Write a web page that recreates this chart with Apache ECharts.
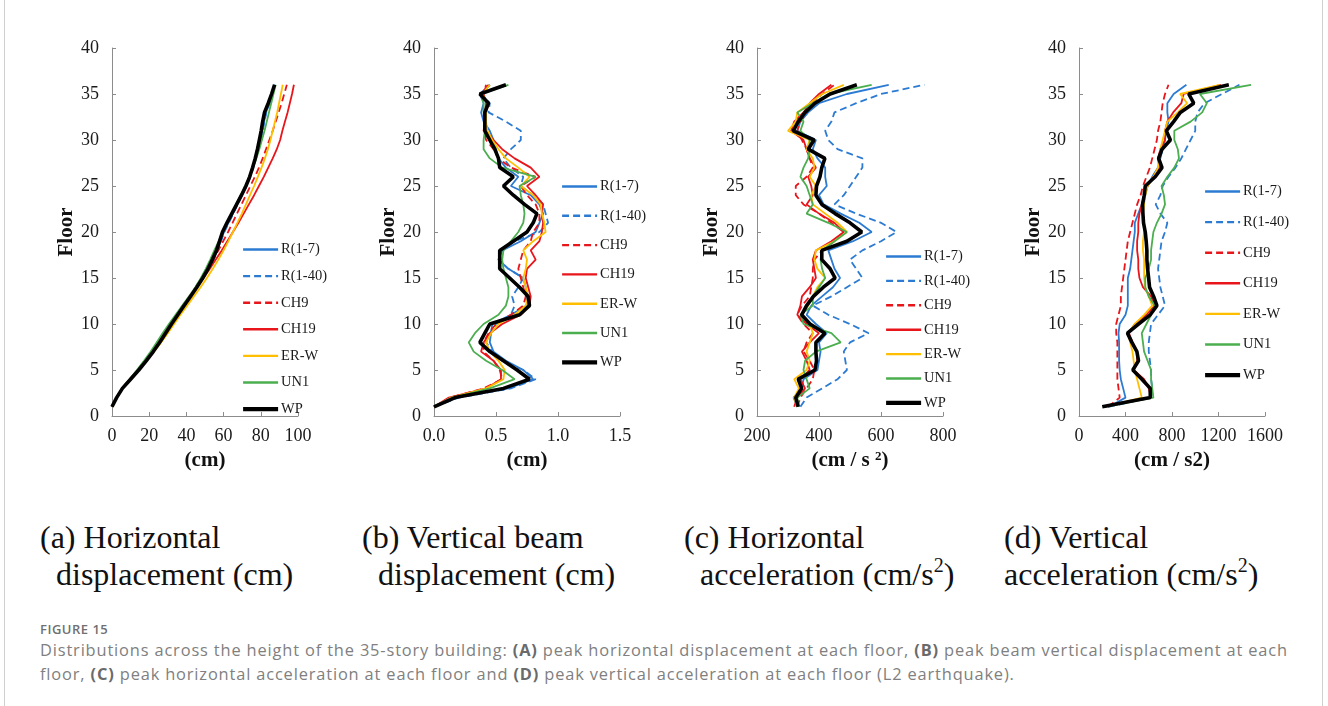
<!DOCTYPE html>
<html>
<head>
<meta charset="utf-8">
<script src="https://cdn.jsdelivr.net/npm/echarts@6/dist/echarts.min.js"></script>
<style>
  html, body { margin: 0; padding: 0; background: #fff; }
  #wrap { position: relative; width: 1328px; height: 706px; overflow: hidden; }
  #frame { position: absolute; left: 4px; top: -2px; width: 1317px; height: 720px;
           border-left: 1px solid #cfcfcf; border-right: 1px solid #cfcfcf; }
  #chart { position: absolute; left: 0; top: 0; width: 1328px; height: 500px; }
  .sub { position: absolute; top: 519px; font-family: "Liberation Serif", "Times New Roman", serif;
         font-size: 32px; line-height: 37px; color: #111; white-space: nowrap; }
  .sub span { display: block; }
  .sub sup { font-size: 20px; vertical-align: 13px; line-height: 0; }
  #cap { position: absolute; left: 40px; top: 620px; font-family: "Open Sans", sans-serif; color: #808080; }
  #cap .fig { font-size: 13px; font-weight: 600; color: #707070; letter-spacing: 0.5px; line-height: 18px; }
  #cap .txt { font-size: 16.4px; line-height: 24px; letter-spacing: 0.85px; white-space: nowrap; }
  #cap b { font-weight: 700; color: #6a6a6a; }
</style>
</head>
<body>
<div id="wrap">
  <div id="frame"></div>
  <div id="chart"></div>
  <div class="sub" style="left:40px"><span>(a) Horizontal</span><span style="padding-left:16px">displacement (cm)</span></div>
  <div class="sub" style="left:362px"><span>(b) Vertical beam</span><span style="padding-left:16px">displacement (cm)</span></div>
  <div class="sub" style="left:684px"><span>(c) Horizontal</span><span style="padding-left:16px">acceleration (cm/s<sup>2</sup>)</span></div>
  <div class="sub" style="left:1004px"><span>(d) Vertical</span><span>acceleration (cm/s<sup>2</sup>)</span></div>
  <div id="cap">
    <div class="fig">FIGURE 15</div>
    <div class="txt">Distributions across the height of the 35-story building: <b>(A)</b> peak horizontal displacement at each floor, <b>(B)</b> peak beam vertical displacement at each<br>floor, <b>(C)</b> peak horizontal acceleration at each floor and <b>(D)</b> peak vertical acceleration at each floor (L2 earthquake).</div>
  </div>
</div>
<script>
// Floors 1..36 (vertical axis of every panel)
const floors = [1,2,3,4,5,6,7,8,9,10,11,12,13,14,15,16,17,18,19,20,21,22,23,24,25,26,27,28,29,30,31,32,33,34,35,36];
const seriesNames = ['R(1-7)', 'R(1-40)', 'CH9', 'CH19', 'ER-W', 'UN1', 'WP'];

// (a) peak horizontal displacement (cm)
const hdR17  = [0,2.5,5.6,10,14.4,18.4,22.2,25.6,28.8,32,35.4,38.8,42.2,45.6,48.8,51.8,54.4,56.6,58.4,60.2,62.6,65,67.4,69.8,72.2,74.2,75.8,77.2,78.6,79.8,80.8,81.8,82.8,84.6,86,87.2];
const hdR140 = [0,2.5,5.6,10,14.4,18.4,22.2,25.8,29,32.2,35.6,39,42.4,45.8,49,52,54.6,56.8,58.6,60.4,62.8,65.2,67.6,70,72.4,74.4,76,77.4,78.8,80,81,82,83,84.8,86.2,87.4];
const hdCH9  = [0,2.4,5.4,9.6,13.8,17.8,21.6,25,28.2,31.2,34.6,38,41.6,45,48.2,51.4,54.4,57.2,59.8,62.4,64.8,67.2,69.6,72,74.4,76.8,79,81,82.8,84.6,86.4,88,89.6,91.2,92.6,94];
const hdCH19 = [0,2.4,5.4,9.6,13.8,17.8,21.6,25,28.2,31.4,34.8,38.4,42,45.6,49.2,52.6,55.8,59,62,65,68,70.8,73.6,76.4,79,81.6,84,86.4,88.6,90.4,91.6,93,94.4,95.6,96.8,97.8];
const hdERW  = [0,2.5,5.6,10,14.4,18.6,22.6,26.4,30,33.4,36.8,40.4,44,47.6,51,54.2,57.2,60,62.6,65,67.4,69.8,72,74.2,76.4,78.4,80.4,82.2,83.8,85.2,86.4,87.6,88.8,89.8,90.8,91.8];
const hdUN1  = [0,2.4,5.3,9.4,13.4,17.2,20.8,24,27.2,30.6,34.2,37.8,41.4,44.8,47.8,50.4,52.8,55,57.4,59.6,62,64.4,66.8,69.2,71.6,73.8,75.8,77.6,79.2,80.6,82,83.2,84.4,85.6,86.8,88];
const hdWP   = [0,2.5,5.6,10,14.4,18.4,22.2,25.6,28.8,32,35.4,38.8,42.2,45.6,48.8,51.6,54,56.2,57.8,59.4,61.8,64.4,67,69.6,72,74,75.6,77,78.2,79.2,80.2,81,82,84,85.8,87.4];

// (b) peak beam vertical displacement (cm)
const vbR17  = [0,0.18,0.6,0.8,0.72,0.58,0.48,0.45,0.46,0.47,0.62,0.75,0.75,0.74,0.72,0.6,0.52,0.55,0.7,0.82,0.85,0.88,0.85,0.78,0.62,0.68,0.58,0.52,0.5,0.48,0.45,0.4,0.38,0.4,0.37,0.45];
const vbR140 = [0,0.2,0.62,0.82,0.72,0.55,0.47,0.42,0.45,0.5,0.62,0.65,0.63,0.68,0.72,0.6,0.52,0.55,0.65,0.85,0.92,0.9,0.88,0.8,0.7,0.72,0.62,0.56,0.62,0.7,0.7,0.58,0.44,0.45,0.38,0.45];
const vbCH9  = [0,0.13,0.4,0.55,0.53,0.48,0.4,0.4,0.44,0.5,0.62,0.72,0.74,0.72,0.7,0.68,0.7,0.72,0.78,0.8,0.85,0.85,0.82,0.75,0.7,0.82,0.62,0.52,0.48,0.42,0.4,0.41,0.41,0.42,0.4,0.42];
const vbCH19 = [0,0.12,0.42,0.54,0.54,0.48,0.38,0.4,0.45,0.55,0.7,0.77,0.78,0.76,0.74,0.75,0.82,0.78,0.85,0.87,0.88,0.87,0.88,0.82,0.75,0.85,0.78,0.65,0.55,0.48,0.42,0.42,0.42,0.44,0.38,0.44];
const vbERW  = [0,0.14,0.42,0.56,0.57,0.52,0.45,0.42,0.46,0.52,0.65,0.74,0.76,0.74,0.72,0.74,0.75,0.72,0.8,0.9,0.89,0.87,0.86,0.8,0.7,0.77,0.68,0.58,0.52,0.47,0.43,0.42,0.42,0.43,0.39,0.45];
const vbUN1  = [0,0.15,0.45,0.65,0.55,0.42,0.32,0.28,0.33,0.4,0.52,0.58,0.6,0.6,0.58,0.56,0.55,0.56,0.62,0.68,0.72,0.73,0.72,0.7,0.69,0.82,0.55,0.45,0.4,0.4,0.41,0.41,0.4,0.4,0.38,0.6];
const vbWP   = [0,0.17,0.56,0.77,0.67,0.56,0.45,0.37,0.41,0.45,0.69,0.77,0.76,0.69,0.61,0.53,0.53,0.53,0.64,0.75,0.8,0.83,0.73,0.64,0.56,0.64,0.53,0.52,0.49,0.45,0.41,0.41,0.41,0.44,0.37,0.58];

// (c) peak horizontal acceleration (cm/s2)
const haR17  = [330,318,345,350,395,400,405,400,425,390,360,375,410,445,468,450,440,430,510,570,530,470,415,400,425,420,420,395,380,390,330,340,365,400,490,625];
const haR140 = [340,360,410,460,490,485,480,500,560,500,430,380,440,490,540,520,500,540,600,650,600,520,450,480,500,520,540,540,460,430,420,440,450,520,600,740];
const haCH9  = [330,340,360,380,385,370,350,360,380,350,330,345,370,375,380,380,385,410,450,480,440,400,350,325,325,360,380,370,360,345,330,340,360,375,410,450];
const haCH19 = [320,330,355,340,370,360,345,370,400,360,330,340,345,370,390,385,380,390,440,480,450,400,360,380,375,365,390,370,360,350,310,320,350,370,400,440];
const haERW  = [330,320,335,320,360,370,360,370,380,370,345,365,380,395,420,395,385,390,450,490,460,420,380,375,390,370,385,380,360,370,300,325,330,370,410,480];
const haUN1  = [335,330,370,360,350,355,390,470,440,350,340,380,380,400,420,410,405,410,450,490,430,360,380,370,360,340,350,365,370,370,340,350,330,380,430,570];
const haWP   = [333,325,344,333,387,392,390,390,419,371,344,360,382,414,452,436,409,409,490,538,500,452,409,390,392,403,409,419,365,384,317,333,355,387,436,522];

// (d) peak vertical acceleration (cm/s2)
const vaR17  = [260,400,380,360,350,345,345,345,340,350,400,420,420,420,420,440,450,460,470,480,480,510,540,570,590,630,680,700,720,740,750,770,760,760,814,924];
const vaR140 = [250,620,630,620,620,610,600,600,610,620,680,740,720,700,690,680,690,700,710,740,760,700,660,700,720,770,830,880,920,960,1000,1000,1020,1080,1230,1380];
const vaCH9  = [250,350,340,330,330,330,330,330,320,320,340,360,360,370,380,390,400,410,420,440,460,480,500,530,550,580,610,630,650,670,680,700,710,720,740,770];
const vaCH19 = [210,620,600,560,470,500,500,460,430,480,580,650,620,550,520,510,510,500,500,510,510,520,540,560,590,640,690,680,700,740,740,760,810,880,900,1220];
const vaERW  = [220,540,520,500,480,470,460,440,420,480,560,630,600,570,560,560,560,550,550,560,560,550,560,570,590,640,680,690,700,720,740,760,850,930,870,1210];
const vaUN1  = [220,640,630,620,620,590,560,550,540,580,620,650,600,570,570,600,620,620,630,640,670,710,740,730,710,760,820,860,850,820,820,960,1060,1100,1040,1480];
const vaWP   = [200,613,613,541,463,512,498,455,417,512,613,670,642,607,599,590,584,584,578,570,555,550,547,561,570,656,714,685,714,786,751,814,872,987,944,1289];

const colors = { 'R(1-7)': '#2c7bd2', 'R(1-40)': '#2c7bd2', 'CH9': '#e8151b', 'CH19': '#e8151b', 'ER-W': '#ffbf00', 'UN1': '#4bae4f', 'WP': '#000000' };
const dashed = { 'R(1-40)': true, 'CH9': true };

const panels = [
  { data: [hdR17, hdR140, hdCH9, hdCH19, hdERW, hdUN1, hdWP], left: 112, min: 0, max: 100, interval: 20, unit: '(cm)', dec: 0,
    legendLeft: 241, legendTop: 242, legendGap: 11.6 },
  { data: [vbR17, vbR140, vbCH9, vbCH19, vbERW, vbUN1, vbWP], left: 434, min: 0, max: 1.5, interval: 0.5, unit: '(cm)', dec: 1,
    legendLeft: 560, legendTop: 179, legendGap: 14.3 },
  { data: [haR17, haR140, haCH9, haCH19, haERW, haUN1, haWP], left: 757, min: 200, max: 800, interval: 200, unit: '(cm / s {sup|2})', dec: 0,
    legendLeft: 884, legendTop: 249, legendGap: 9.4 },
  { data: [vaR17, vaR140, vaCH9, vaCH19, vaERW, vaUN1, vaWP], left: 1079, min: 0, max: 1600, interval: 400, unit: '(cm / s2)', dec: 0,
    legendLeft: 1203, legendTop: 184, legendGap: 15.6 }
];

const serif = '"Liberation Serif", "Times New Roman", serif';
const axisGray = '#8c8c8c';

const grid = [], xAxis = [], yAxis = [], series = [], legend = [];
panels.forEach((p, k) => {
  grid.push({ left: p.left, top: 48, width: 186, height: 368 });
  xAxis.push({
    type: 'value', gridIndex: k, min: p.min, max: p.max, interval: p.interval,
    name: p.unit, nameLocation: 'middle', nameGap: 32,
    nameTextStyle: { fontFamily: serif, fontSize: 21, fontWeight: 'bold', color: '#111',
      rich: { sup: { fontFamily: serif, fontSize: 13, fontWeight: 'bold', verticalAlign: 'top', padding: [0, 0, 9, 0], color: '#111' } } },
    axisLine: { lineStyle: { color: axisGray, width: 1 } },
    axisTick: { inside: true, length: 4, lineStyle: { color: axisGray } },
    axisLabel: { fontFamily: serif, fontSize: 18, color: '#1a1a1a', margin: 11,
      formatter: v => v.toFixed(p.dec) },
    splitLine: { show: false }
  });
  yAxis.push({
    type: 'value', gridIndex: k, min: 0, max: 40, interval: 5,
    name: 'Floor', nameLocation: 'middle', nameGap: 34, nameRotate: 90,
    nameTextStyle: { fontFamily: serif, fontSize: 21, fontWeight: 'bold', color: '#111' },
    axisLine: { show: true, lineStyle: { color: axisGray, width: 1 } },
    axisTick: { show: true, inside: true, length: 4, lineStyle: { color: axisGray } },
    axisLabel: { fontFamily: serif, fontSize: 18, color: '#1a1a1a', margin: 13 },
    splitLine: { show: false }
  });
  seriesNames.forEach((name, j) => {
    const vals = p.data[j];
    series.push({
      type: 'line', name, xAxisIndex: k, yAxisIndex: k, symbol: 'none', silent: true,
      data: floors.map((f, i) => [vals[i], f]),
      lineStyle: { color: colors[name], width: name === 'WP' ? 3.6 : 1.8, type: dashed[name] ? [7, 4] : 'solid' },
      itemStyle: { color: colors[name] },
      z: name === 'WP' ? 5 : 2
    });
  });
  legend.push({
    orient: 'vertical', left: p.legendLeft, top: p.legendTop, itemGap: p.legendGap, padding: 0,
    itemWidth: 35, itemHeight: 14, selectedMode: false,
    itemStyle: { opacity: 0 },
    data: seriesNames.map(name => ({
      name,
      lineStyle: { width: name === 'WP' ? 4.2 : 2.4, type: dashed[name] ? [7, 4] : 'solid', color: colors[name] }
    })),
    textStyle: { fontFamily: serif, fontSize: 14.5, color: '#1a1a1a', padding: [0, 0, 0, -2] }
  });
});

const chart = echarts.init(document.getElementById('chart'), null, { renderer: 'canvas' });
chart.setOption({ animation: false, backgroundColor: 'transparent', grid, xAxis, yAxis, series, legend });
</script>
</body>
</html>
